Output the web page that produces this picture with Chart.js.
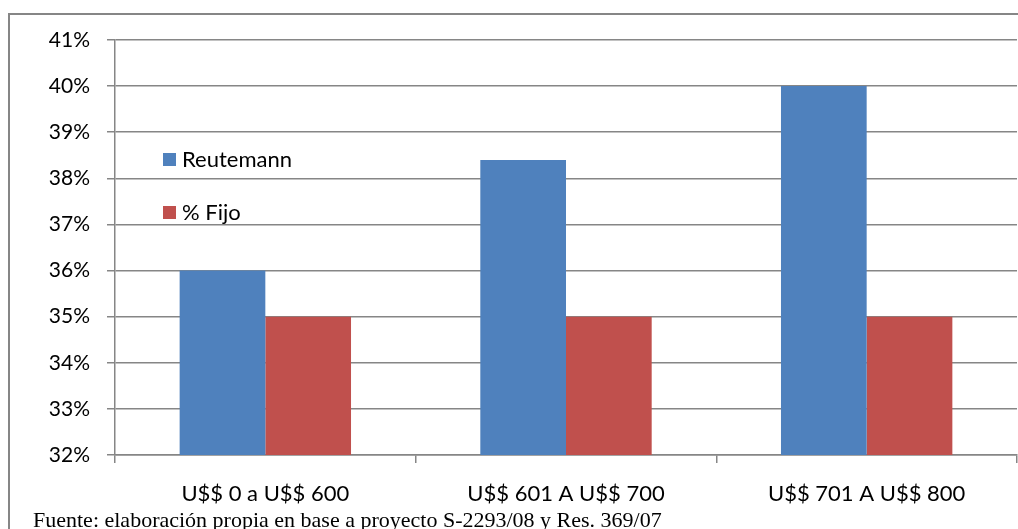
<!DOCTYPE html>
<html>
<head>
<meta charset="utf-8">
<script src="https://cdn.jsdelivr.net/npm/chart.js@4.4.1/dist/chart.umd.min.js"></script>
<style>
  html, body { margin: 0; padding: 0; background: #fff; }
  #wrap { position: relative; width: 1018px; height: 529px; }
</style>
</head>
<body>
<div id="wrap"><canvas id="grafico" width="1018" height="529"></canvas></div>
<script>
// === DATOS ===
const rangos = ["U$$ 0 a U$$ 600", "U$$ 601 A U$$ 700", "U$$ 701 A U$$ 800"];
const reutemann = [36, 38.4, 40];
const fijo = [35, 35, 35];
const series = ["Reutemann", "% Fijo"];
const fuente = "Fuente: elaboración propia en base a proyecto S-2293/08 y Res. 369/07";

const AZUL = "#4F81BD";
const ROJO = "#C0504D";
const GRIS = "#868686";
const FONT = "Lato, 'Open Sans', sans-serif";

// marco exterior + leyenda + nota al pie
const extras = {
  id: "extras",
  beforeDraw(chart) {
    const c = chart.ctx;
    c.save();
    c.strokeStyle = GRIS;
    c.lineWidth = 2;
    c.beginPath();
    c.moveTo(9, 540);
    c.lineTo(9, 14);
    c.lineTo(1030, 14);
    c.stroke();
    c.restore();
  },
  afterDraw(chart) {
    const c = chart.ctx;
    c.save();
    const colores = [AZUL, ROJO];
    const ys = [159, 212];
    c.font = "22px " + FONT;
    c.textBaseline = "middle";
    series.forEach((s, i) => {
      c.fillStyle = colores[i];
      c.fillRect(163, ys[i] - 6, 13, 13);
      c.fillStyle = "#000";
      c.fillText(s, 182, ys[i] + 1);
    });
    c.font = "22px 'Liberation Serif', 'Times New Roman', serif";
    c.textBaseline = "alphabetic";
    c.fillText(fuente, 33, 527);
    c.restore();
  }
};

new Chart(document.getElementById("grafico"), {
  type: "bar",
  data: {
    labels: rangos,
    datasets: [
      { label: series[0], data: reutemann, backgroundColor: AZUL },
      { label: series[1], data: fijo, backgroundColor: ROJO }
    ]
  },
  options: {
    responsive: false,
    animation: false,
    layout: { padding: { top: 40, right: 1, left: 0, bottom: 0 } },
    datasets: { bar: { categoryPercentage: 0.57, barPercentage: 1 } },
    plugins: { legend: { display: false }, tooltip: { enabled: false } },
    scales: {
      x: {
        afterFit: s => { s.height = 74; },
        grid: { offset: true, drawOnChartArea: false, drawTicks: true, tickLength: 8, color: GRIS, lineWidth: 1.5 },
        border: { color: GRIS, width: 1.5 },
        ticks: { color: "#000", font: { family: FONT, size: 22 }, padding: 18, maxRotation: 0 }
      },
      y: {
        min: 32,
        max: 41,
        afterFit: s => { s.width = 115; },
        grid: { color: GRIS, lineWidth: 1.5, tickLength: 8 },
        border: { color: GRIS, width: 1.5 },
        ticks: { stepSize: 1, color: "#000", font: { family: FONT, size: 21 }, padding: 17, callback: v => v + "%" }
      }
    }
  },
  plugins: [extras]
});
</script>
</body>
</html>
